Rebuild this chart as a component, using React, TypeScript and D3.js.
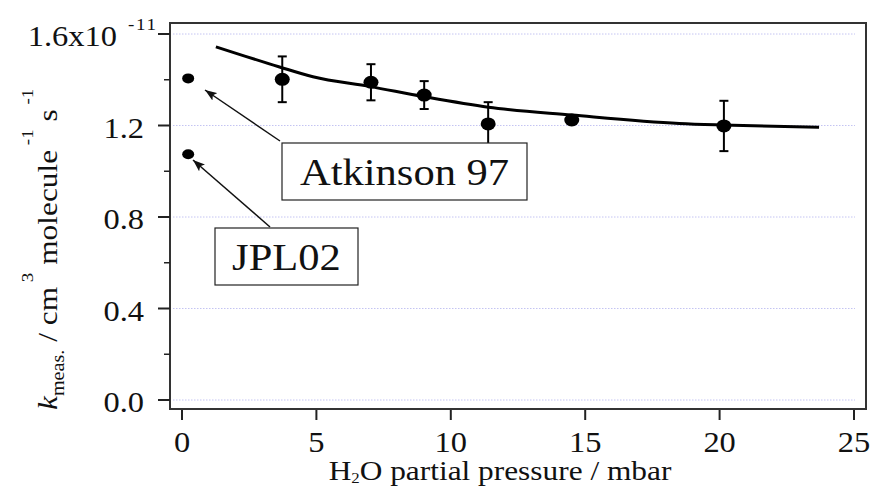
import { useEffect, useRef } from 'react'
import * as d3 from 'd3'

const W = 870
const H = 488
const FONT = '"Liberation Serif", "Times New Roman", serif'
const SX = 1.12

// measured rate coefficients (units of 1e-11)
const pressure = [3.73, 7.03, 9.01, 11.39, 14.5, 20.16]
const kMeas = [1.402, 1.389, 1.333, 1.207, 1.224, 1.198]
const kErr = [0.1, 0.079, 0.061, 0.095, 0.015, 0.11]

// fitted curve
const fitX = [1.26, 3.6, 4.87, 7.0, 9.0, 11.4, 14.5, 18.5, 20.1, 23.7]
const fitY = [1.544, 1.457, 1.413, 1.37, 1.326, 1.28, 1.246, 1.209, 1.202, 1.192]

// literature values at zero water
const litNames = ['Atkinson 97', 'JPL02']
const litX = [0.23, 0.23]
const litY = [1.406, 1.074]

const yTicks = [0, 0.4, 0.8, 1.2, 1.6]
const yMinor = [0.2, 0.6, 1.0, 1.4]
const xTicks = [0, 5, 10, 15, 20, 25]

export default function App() {
  const svgRef = useRef<SVGSVGElement>(null)

  useEffect(() => {
    if (!svgRef.current) return
    const svg = d3.select(svgRef.current)
    svg.selectAll('*').remove()

    const x = d3.scaleLinear().domain([0, 25]).range([182, 854])
    const y = d3.scaleLinear().domain([0, 1.6]).range([400, 34])

    const frame = { left: 170, right: 866, top: 23, bottom: 409 }

    const defs = svg.append('defs')
    defs.append('marker')
      .attr('id', 'arrow')
      .attr('viewBox', '0 0 12 9')
      .attr('refX', 12)
      .attr('refY', 4.5)
      .attr('markerWidth', 12)
      .attr('markerHeight', 9)
      .attr('markerUnits', 'userSpaceOnUse')
      .attr('orient', 'auto')
      .append('path')
      .attr('d', 'M0,0 L12,4.5 L0,9 L2.5,4.5 Z')
      .attr('fill', '#111')

    const label = (px: number, py: number, txt: string, size: number, anchor = 'middle') =>
      svg.append('text')
        .attr('transform', `translate(${px},${py}) scale(${SX},1)`)
        .attr('text-anchor', anchor)
        .attr('font-family', FONT)
        .attr('font-size', size)
        .attr('fill', '#111')
        .text(txt)

    // grid
    yTicks.forEach((t) => {
      svg.append('line')
        .attr('x1', frame.left + 3)
        .attr('x2', 855)
        .attr('y1', y(t))
        .attr('y2', y(t))
        .attr('stroke', '#c4c4f2')
        .attr('stroke-width', 1)
        .attr('stroke-dasharray', '1.5,1.5')
    })

    // frame
    svg.append('rect')
      .attr('x', frame.left)
      .attr('y', frame.top)
      .attr('width', frame.right - frame.left)
      .attr('height', frame.bottom - frame.top)
      .attr('fill', 'none')
      .attr('stroke', '#333')
      .attr('stroke-width', 2)

    // y ticks
    yTicks.forEach((t) => {
      svg.append('line')
        .attr('x1', 158).attr('x2', frame.left)
        .attr('y1', y(t)).attr('y2', y(t))
        .attr('stroke', '#222').attr('stroke-width', 2)
    })
    yMinor.forEach((t) => {
      svg.append('line')
        .attr('x1', 164).attr('x2', frame.left)
        .attr('y1', y(t)).attr('y2', y(t))
        .attr('stroke', '#222').attr('stroke-width', 1.5)
    })
    yTicks.forEach((t) => {
      if (t === 1.6) {
        label(117, y(t) + 12, '1.6x10', 29, 'end')
        label(128, 30, '-11', 17, 'start').attr('letter-spacing', 1.5)
      } else {
        label(144, y(t) + 12, t.toFixed(1), 29, 'end')
      }
    })

    // x ticks
    xTicks.forEach((t) => {
      svg.append('line')
        .attr('x1', x(t)).attr('x2', x(t))
        .attr('y1', frame.bottom + 1).attr('y2', 420)
        .attr('stroke', '#222').attr('stroke-width', 2)
      label(x(t), 452, String(t), 29)
    })

    // x title
    const xt = svg.append('text')
      .attr('transform', `translate(500,480) scale(${SX},1)`)
      .attr('text-anchor', 'middle')
      .attr('font-family', FONT)
      .attr('font-size', 28)
      .attr('fill', '#111')
    xt.append('tspan').text('H')
    xt.append('tspan').attr('font-size', 15).attr('dy', 3).text('2')
    xt.append('tspan').attr('dy', -3).text('O partial pressure / mbar')

    // y title
    const yt = svg.append('text')
      .attr('transform', `translate(57,410) rotate(-90) scale(${SX},1)`)
      .attr('font-family', FONT)
      .attr('font-size', 28)
      .attr('fill', '#111')
    yt.append('tspan').attr('font-style', 'italic').text('k')
    yt.append('tspan').attr('font-size', 18).attr('dy', 7).text('meas.')
    yt.append('tspan').attr('dy', -7).text('  / cm')
    yt.append('tspan').attr('font-size', 17).attr('dy', -24).text(' 3')
    yt.append('tspan').attr('dy', 24).text(' molecule')
    yt.append('tspan').attr('font-size', 17).attr('dy', -24).text(' -1')
    yt.append('tspan').attr('dy', 24).text(' s')
    yt.append('tspan').attr('font-size', 17).attr('dy', -24).text(' -1')

    // fit curve
    const line = d3.line<number>()
      .x((d) => x(d))
      .y((_, i) => y(fitY[i]))
      .curve(d3.curveMonotoneX)
    svg.append('path')
      .attr('d', line(fitX))
      .attr('fill', 'none')
      .attr('stroke', '#000')
      .attr('stroke-width', 3)

    // error bars + points
    pressure.forEach((p, i) => {
      const cx = x(p)
      const top = y(kMeas[i] + kErr[i])
      const bot = y(kMeas[i] - kErr[i])
      svg.append('line')
        .attr('x1', cx).attr('x2', cx).attr('y1', top).attr('y2', bot)
        .attr('stroke', '#000').attr('stroke-width', 2)
      ;[top, bot].forEach((yy) => {
        svg.append('line')
          .attr('x1', cx - 4.5).attr('x2', cx + 4.5).attr('y1', yy).attr('y2', yy)
          .attr('stroke', '#000').attr('stroke-width', 2)
      })
      svg.append('ellipse')
        .attr('cx', cx).attr('cy', y(kMeas[i]))
        .attr('rx', 7.5).attr('ry', 6.5)
        .attr('fill', '#000')
    })

    // literature points
    litX.forEach((lx, i) => {
      svg.append('ellipse')
        .attr('cx', x(lx)).attr('cy', y(litY[i]))
        .attr('rx', 6).attr('ry', 5)
        .attr('fill', '#000')
    })

    // annotation boxes and arrows
    const boxes = [
      { x0: 282, y0: 143, w: 245, h: 57, from: [280, 141], to: [205, 90] },
      { x0: 215, y0: 228, w: 143, h: 57, from: [270, 227], to: [193, 160] },
    ]
    boxes.forEach((b, i) => {
      svg.append('line')
        .attr('x1', b.from[0]).attr('y1', b.from[1])
        .attr('x2', b.to[0]).attr('y2', b.to[1])
        .attr('stroke', '#111').attr('stroke-width', 1.5)
        .attr('marker-end', 'url(#arrow)')
      svg.append('rect')
        .attr('x', b.x0).attr('y', b.y0)
        .attr('width', b.w).attr('height', b.h)
        .attr('fill', '#fff')
        .attr('stroke', '#222').attr('stroke-width', 1.2)
      label(b.x0 + b.w / 2, b.y0 + 42, litNames[i], 38)
    })
  }, [])

  return (
    <svg
      ref={svgRef}
      width={W}
      height={H}
      style={{ position: 'absolute', left: 0, top: 0, background: '#fff' }}
    />
  )
}
